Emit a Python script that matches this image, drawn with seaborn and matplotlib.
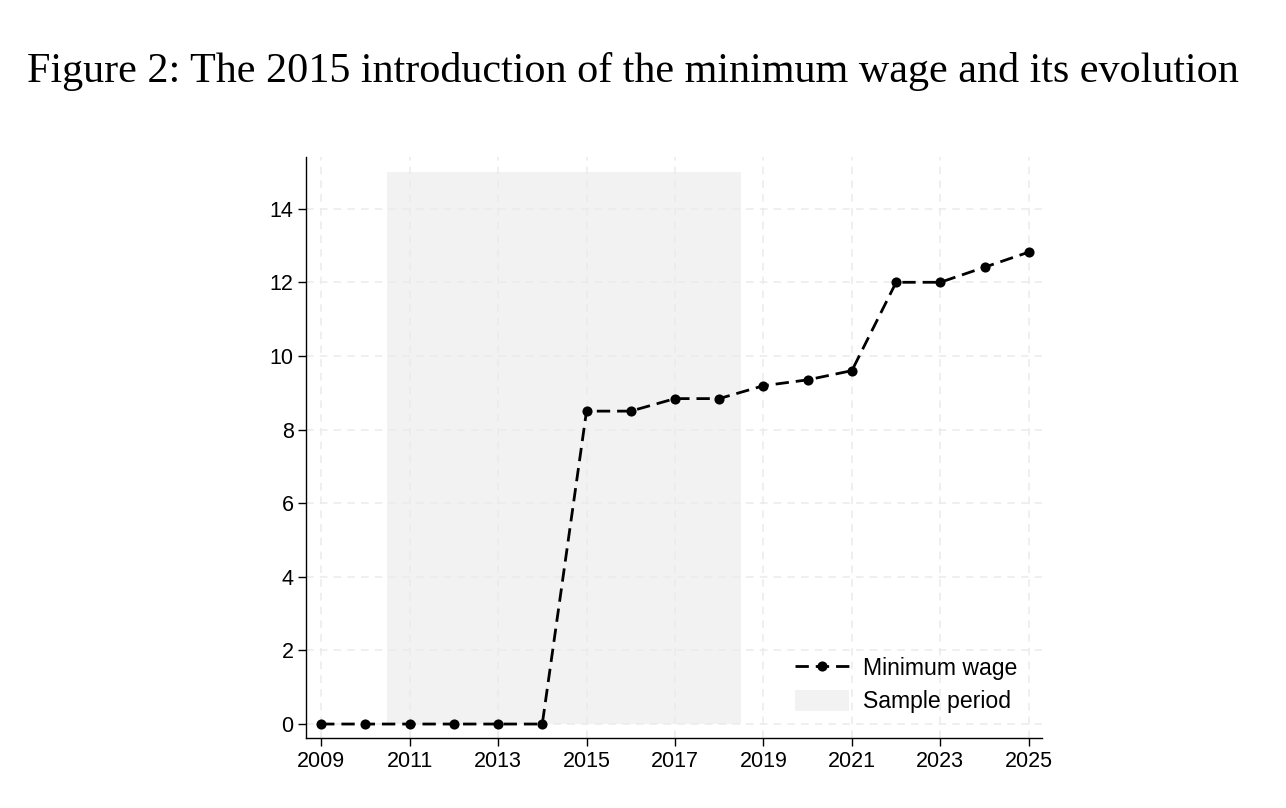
import pandas as pd
import matplotlib.pyplot as plt
import seaborn as sns

# Minimum wage (EUR per hour) by year
years = list(range(2009, 2026))
wage = [0, 0, 0, 0, 0, 0, 8.50, 8.50, 8.84, 8.84, 9.19, 9.35, 9.60, 12.00, 12.00, 12.41, 12.82]
sample_start, sample_end = 2010.5, 2018.5
sample_top = 15

df = pd.DataFrame({"year": years, "wage": wage})

sns.set_style("white")
plt.rcParams["font.family"] = ["Liberation Sans", "DejaVu Sans"]
plt.rcParams["text.color"] = "black"
plt.rcParams["xtick.color"] = "black"
plt.rcParams["ytick.color"] = "black"

fig = plt.figure(figsize=(12.86, 8.08), dpi=100)
ax = fig.add_axes([0.238, 0.0866, 0.572, 0.7194])

# Sample period shading
ax.fill_between([sample_start, sample_end], 0, sample_top, color="#f2f2f2",
                linewidth=0, label="Sample period", zorder=0)

sns.lineplot(data=df, x="year", y="wage", ax=ax, color="black", linestyle=(0, (4.8, 2.5)),
             linewidth=2.0, marker="o", markersize=7.3, markeredgewidth=0,
             label="Minimum wage", zorder=3)

ax.set_xlim(2008.66, 2025.29)
ax.set_ylim(-0.38, 15.41)
ax.set_xticks(range(2009, 2026, 2))
ax.set_yticks(range(0, 15, 2))
ax.set_xlabel("")
ax.set_ylabel("")

ax.grid(True, color="#ebebeb", linestyle=(0, (5, 4)), linewidth=1.1, zorder=1)
ax.set_axisbelow(True)
for side in ["top", "right"]:
    ax.spines[side].set_visible(False)
for side in ["left", "bottom"]:
    ax.spines[side].set_color("black")
    ax.spines[side].set_linewidth(1.0)
ax.tick_params(axis="both", direction="out", length=6, width=1, color="black",
               labelcolor="black", labelsize=15.5, pad=3, bottom=True, left=True)

handles, labels = ax.get_legend_handles_labels()
order = [labels.index("Minimum wage"), labels.index("Sample period")]
ax.legend([handles[i] for i in order], [labels[i] for i in order], frameon=False,
          fontsize=16.6, loc="lower right", bbox_to_anchor=(0.995, 0.007),
          handlelength=2.35, handleheight=1.05, labelspacing=0.4, handletextpad=0.6)

fig.text(0.492, 0.911, "Figure 2: The 2015 introduction of the minimum wage and its evolution",
         ha="center", va="center", fontsize=30.3, color="black",
         family=["Liberation Serif", "DejaVu Serif"])

fig.savefig("out.png", dpi=100)
plt.close(fig)
